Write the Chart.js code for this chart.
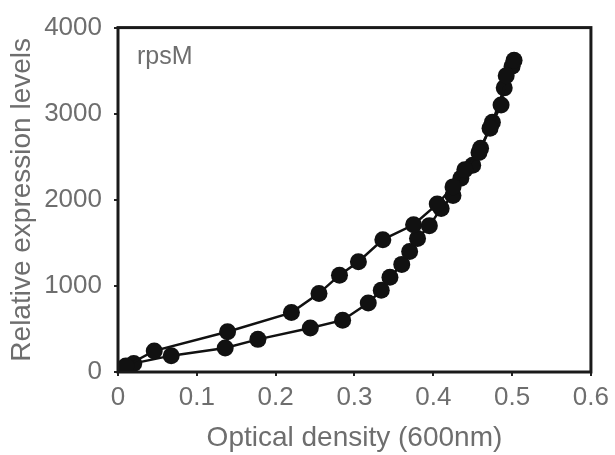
<!DOCTYPE html>
<html lang="en">
<head>
    <meta charset="UTF-8">
    <title>rpsM expression vs optical density</title>
    <style>
        body {
            margin: 0;
            background: #fff;
        }
        canvas {
            display: block;
        }
    </style>
</head>
<body>
    <canvas id="odChart" width="615" height="455"></canvas>

    <script src="https://cdn.jsdelivr.net/npm/chart.js"></script>
    <script>
        // values
        const geneLabel = 'rpsM';

        // upper branch
        const odA = [0, 0.01, 0.046, 0.139, 0.22, 0.255, 0.281, 0.305, 0.336, 0.375, 0.405, 0.425, 0.44, 0.458, 0.472, 0.486, 0.4925, 0.5025];
        const exprA = [20, 70, 245, 468, 690, 913, 1125, 1281, 1537, 1710, 1950, 2150, 2350, 2550, 2830, 3100, 3440, 3620];

        // lower branch
        const odB = [0.005, 0.02, 0.0675, 0.136, 0.1775, 0.244, 0.285, 0.3175, 0.334, 0.345, 0.36, 0.37, 0.38, 0.395, 0.41, 0.425, 0.435, 0.45, 0.46, 0.475, 0.49, 0.5];
        const exprB = [30, 100, 190, 278, 379, 512, 602, 802, 950, 1100, 1250, 1400, 1550, 1700, 1900, 2050, 2250, 2400, 2600, 2900, 3300, 3550];

        const xTicks = [0, 0.1, 0.2, 0.3, 0.4, 0.5, 0.6];
        const yTicks = [0, 1000, 2000, 3000, 4000];

        const textGrey = '#6e6e6e';
        const fontFamily = '"Liberation Sans", Arial, sans-serif';

        function toPoints(xs, ys) {
            return xs.map((x, i) => ({ x: x, y: ys[i] }));
        }

        function series(xs, ys) {
            return {
                data: toPoints(xs, ys),
                showLine: true,
                borderColor: '#111',
                backgroundColor: '#111',
                borderWidth: 2.5,
                pointRadius: 8.5,
                pointBorderWidth: 0
            };
        }

        // box round the plot plus the gene name in the corner
        const framePlugin = {
            id: 'frame',
            afterDraw(chart) {
                const a = chart.chartArea;
                const ctx = chart.ctx;
                ctx.save();
                ctx.strokeStyle = '#1a1a1a';
                ctx.lineWidth = 3;
                ctx.strokeRect(a.left, a.top, a.right - a.left, a.bottom - a.top);
                ctx.fillStyle = textGrey;
                ctx.font = '25px ' + fontFamily;
                ctx.textBaseline = 'alphabetic';
                ctx.fillText(geneLabel, a.left + 19, a.top + 36);
                ctx.restore();
            }
        };

        new Chart(document.getElementById('odChart'), {
            type: 'scatter',
            data: {
                datasets: [series(odA, exprA), series(odB, exprB)]
            },
            options: {
                responsive: false,
                animation: false,
                layout: { padding: { top: 13, right: 17, left: 0, bottom: 0 } },
                plugins: {
                    legend: { display: false },
                    tooltip: { enabled: false }
                },
                scales: {
                    x: {
                        type: 'linear',
                        min: 0,
                        max: 0.6,
                        afterBuildTicks: (scale) => { scale.ticks = xTicks.map(v => ({ value: v })); },
                        afterFit: (scale) => { scale.height = 83; },
                        border: { display: false },
                        grid: { drawOnChartArea: false, drawTicks: true, tickLength: 4, color: '#222', lineWidth: 2 },
                        ticks: {
                            color: textGrey,
                            padding: 6,
                            maxRotation: 0,
                            font: { family: fontFamily, size: 26 },
                            callback: (v) => String(v)
                        },
                        title: {
                            display: true,
                            text: 'Optical density (600nm)',
                            color: textGrey,
                            padding: 0,
                            font: { family: fontFamily, size: 28 }
                        }
                    },
                    y: {
                        type: 'linear',
                        min: 0,
                        max: 4000,
                        afterBuildTicks: (scale) => { scale.ticks = yTicks.map(v => ({ value: v })); },
                        afterFit: (scale) => { scale.width = 118; },
                        border: { display: false },
                        grid: { drawOnChartArea: false, drawTicks: true, tickLength: 4, color: '#222', lineWidth: 2 },
                        ticks: {
                            color: textGrey,
                            padding: 12,
                            font: { family: fontFamily, size: 26 },
                            callback: (v) => String(v)
                        },
                        title: {
                            display: true,
                            text: 'Relative expression levels',
                            color: textGrey,
                            padding: { top: 5, bottom: 0 },
                            font: { family: fontFamily, size: 28 }
                        }
                    }
                }
            },
            plugins: [framePlugin]
        });
    </script>
</body>
</html>
